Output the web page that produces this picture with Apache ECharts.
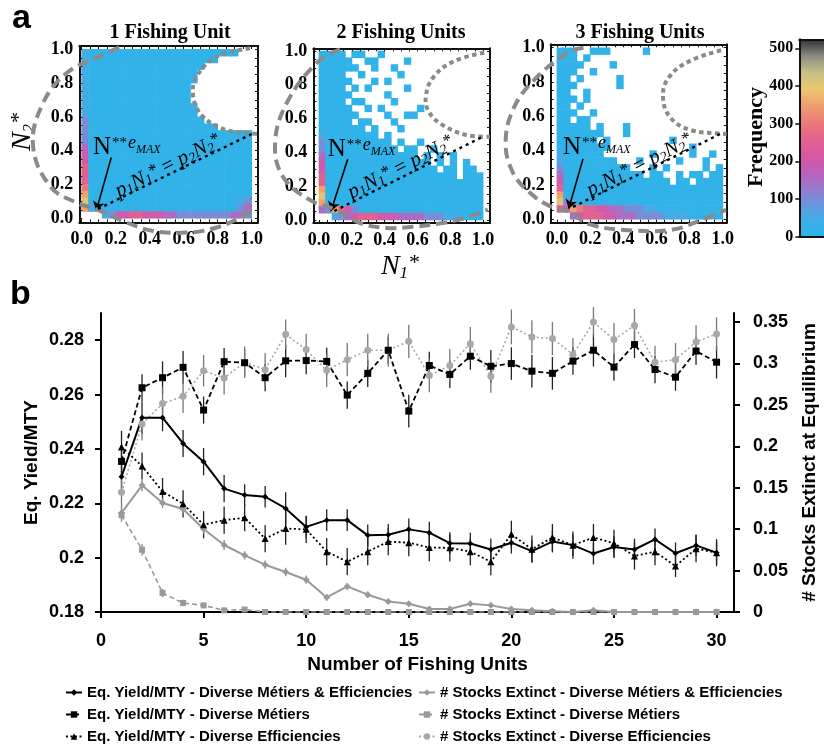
<!DOCTYPE html>
<html>
<head>
<meta charset="utf-8">
<script src="https://cdn.jsdelivr.net/npm/echarts@6/dist/echarts.min.js"></script>
<style>
  html, body { margin: 0; padding: 0; background: #fff; }
  #chart { width: 824px; height: 746px; }
</style>
</head>
<body>
<div id="chart"></div>
<script>
// ---------------- panel b : equilibrium yield and extinctions ----------------
const fishingUnits = [1, 2, 3, 4, 5, 6, 7, 8, 9, 10, 11, 12, 13, 14, 15,
                      16, 17, 18, 19, 20, 21, 22, 23, 24, 25, 26, 27, 28, 29, 30];

const yieldMetiersEff = [0.2298, 0.2515, 0.2515, 0.2420, 0.2353, 0.2254, 0.2230, 0.2224, 0.2181, 0.2113,
                         0.2138, 0.2138, 0.2082, 0.2084, 0.2104, 0.2092, 0.2053, 0.2052, 0.2030, 0.2055,
                         0.2024, 0.2059, 0.2046, 0.2015, 0.2039, 0.2030, 0.2067, 0.2016, 0.2045, 0.2018];
const yieldMetiers    = [0.2354, 0.2625, 0.2662, 0.2700, 0.2543, 0.2721, 0.2717, 0.2662, 0.2724, 0.2725,
                         0.2722, 0.2598, 0.2678, 0.2763, 0.2539, 0.2707, 0.2674, 0.2741, 0.2704, 0.2714,
                         0.2686, 0.2678, 0.2723, 0.2763, 0.2701, 0.2784, 0.2692, 0.2664, 0.2760, 0.2719];
const yieldEff        = [0.2407, 0.2337, 0.2243, 0.2198, 0.2121, 0.2138, 0.2147, 0.2070, 0.2107, 0.2104,
                         0.2022, 0.1985, 0.2022, 0.2059, 0.2055, 0.2037, 0.2036, 0.2022, 0.1985, 0.2086,
                         0.2031, 0.2074, 0.2046, 0.2074, 0.2053, 0.2006, 0.2022, 0.1969, 0.2033, 0.2018];

const extinctMetiersEff = [0.1196, 0.1529, 0.1316, 0.1244, 0.1002, 0.0809, 0.0684, 0.0571, 0.0483, 0.0390,
                           0.0176, 0.0309, 0.0209, 0.0128, 0.0100, 0.0036, 0.0036, 0.0100, 0.0080, 0.0036,
                           0.0020, 0.0010, 0.0000, 0.0020, 0.0000, 0.0000, 0.0000, 0.0000, 0.0000, 0.0000];
const extinctMetiers    = [0.1170, 0.0752, 0.0229, 0.0109, 0.0080, 0.0020, 0.0030, 0, 0, 0,
                           0, 0, 0, 0, 0, 0, 0, 0, 0, 0,
                           0, 0, 0, 0, 0, 0, 0, 0, 0, 0];
const extinctEff        = [0.1445, 0.2270, 0.2516, 0.2604, 0.2914, 0.2826, 0.3015, 0.2926, 0.3353, 0.3168,
                           0.2918, 0.3047, 0.3160, 0.3160, 0.3268, 0.2854, 0.2975, 0.3240, 0.2846, 0.3442,
                           0.3321, 0.3301, 0.3108, 0.3502, 0.3289, 0.3458, 0.3015, 0.3047, 0.3261, 0.3357];

// half-length of each error bar
const errYieldMetiersEff = [0.006, 0.006, 0.005, 0.005, 0.005, 0.005, 0.004, 0.004, 0.006, 0.004,
                            0.004, 0.004, 0.004, 0.004, 0.004, 0.004, 0.004, 0.004, 0.004, 0.004,
                            0.004, 0.004, 0.004, 0.004, 0.004, 0.004, 0.004, 0.004, 0.004, 0.004];
const errYieldMetiers    = [0.006, 0.005, 0.006, 0.006, 0.005, 0.005, 0.005, 0.005, 0.006, 0.005,
                            0.005, 0.005, 0.005, 0.005, 0.006, 0.005, 0.005, 0.005, 0.006, 0.006,
                            0.006, 0.006, 0.005, 0.006, 0.005, 0.005, 0.005, 0.005, 0.005, 0.006];
const errYieldEff        = [0.006, 0.005, 0.005, 0.005, 0.005, 0.005, 0.005, 0.005, 0.006, 0.005,
                            0.005, 0.005, 0.005, 0.005, 0.005, 0.005, 0.005, 0.005, 0.005, 0.005,
                            0.005, 0.005, 0.005, 0.005, 0.005, 0.005, 0.005, 0.004, 0.005, 0.005];
const errExtinctMetiersEff = [0.008, 0.007, 0.006, 0.006, 0.006, 0.006, 0.005, 0.005, 0.005, 0.005,
                              0.004, 0.004, 0.004, 0.003, 0.003, 0.002, 0.002, 0.003, 0.003, 0.002,
                              0.002, 0.001, 0, 0.002, 0, 0, 0, 0, 0, 0];
const errExtinctMetiers    = [0.008, 0.007, 0.005, 0.004, 0.003, 0.002, 0.002, 0, 0, 0,
                              0, 0, 0, 0, 0, 0, 0, 0, 0, 0,
                              0, 0, 0, 0, 0, 0, 0, 0, 0, 0];
const errExtinctEff        = [0.018, 0.020, 0.020, 0.020, 0.019, 0.020, 0.019, 0.020, 0.018, 0.019,
                              0.020, 0.020, 0.020, 0.020, 0.020, 0.020, 0.020, 0.020, 0.020, 0.021,
                              0.020, 0.020, 0.020, 0.018, 0.020, 0.020, 0.020, 0.020, 0.020, 0.020];

const unitTicks = [0, 5, 10, 15, 20, 25, 30];
const yieldTicks = [0.18, 0.2, 0.22, 0.24, 0.26, 0.28];
const extinctTicks = [0, 0.05, 0.1, 0.15, 0.2, 0.25, 0.3, 0.35];

// ---------------- panel a : equilibrium state frequency maps ----------------
// Each row is one band of N2* (top row = highest), each character one 0.04 bin of N1*.
// '.' = no runs, 1..9 = frequency class (see heatLevels).
const heatLevels = [0, 15, 50, 100, 150, 200, 250, 300, 350, 410];
const heatRowsOneUnit = [
  "21111 11111 11111 11111 111..",
  "21111 11111 11111 11111 .....",
  "21111 11111 11111 111.. .....",
  "21111 11111 11111 11... .....",
  "21111 11111 11111 11... .....",
  "21111 11111 11111 1.... .....",
  "21111 11111 11111 1.... .....",
  "21111 11111 11111 1.... .....",
  "21111 11111 11111 11... .....",
  "21111 11111 11111 11... .....",
  "31111 11111 11111 111.. .....",
  "31111 11111 11111 11111 .....",
  "31111 11111 11111 11111 11111",
  "31111 11111 11111 11111 11111",
  "41111 11111 11111 11111 11111",
  "51111 11111 11111 11111 11111",
  "51111 11111 11111 11111 11111",
  "61111 11111 11111 11111 11111",
  "61111 11111 11111 11111 11111",
  "61111 11111 11111 11111 11111",
  "71111 11111 11111 11111 11111",
  "81111 11111 11111 11111 11111",
  "91111 11111 11111 11111 11123",
  "82111 11111 11111 11111 11134",
  "...23 55665 55443 33333 33443"
];
const heatRowsTwoUnits = [
  "1111. 11..1 ..... ..... .....",
  "11111 ..11. ...1. ..... .....",
  "11111 1..1. .1... ..... .....",
  "1111. .1... ..1.. ..... .....",
  "11111 ...1. 1.... ..... .....",
  "1111. 1.1.. ...1. ..... .....",
  "11111 ..... 1.... ..... .....",
  "1111. 11... .1... ..... .....",
  "11111 ..1.1 ..... 1.... .....",
  "11111 1.... 1..11 ..... .....",
  "11111 .11.. .1... ..... .....",
  "11111 11.1. ..1.. ..... .....",
  "21111 1111. 1.... ..... .....",
  "31111 11111 1.1.. 1.... .....",
  "31111 11111 11.11 ..1.. .....",
  "41111 11111 11111 .1.1. 1....",
  "51111 11111 11111 11.1. 1.1..",
  "51111 11111 11111 111.1 1.11.",
  "61111 11111 11111 11111 1.111",
  "61111 11111 11111 11111 11111",
  "81111 11111 11111 11111 11111",
  "91111 11111 11111 11111 11111",
  "82111 11111 11111 11111 11111",
  "43865 31111 11111 11111 11111",
  "..234 56665 55444 43332 22111"
];
const heatRowsThreeUnits = [
  "111.. 111.. ...1. ..... .....",
  "111.1 ..... ..... ..... .....",
  "1111. ...1. ..... ..... .....",
  "111.. 1.... ..... ..... .....",
  "11.1. ....1 ..... ..... .....",
  "111.. ....1 ..... ..... .....",
  "11..1 ..... ..... ..... .....",
  "111.1 ..... ..... ..... .....",
  "11.1. ..... ..... ..... .....",
  "111.. 1.... ..... ..... .....",
  "11.11 ..... ..... ..... .....",
  "11111 .1... 1.... ..... .....",
  "11111 11... 1.... ..... .....",
  "11111 1.1.. ..... ..1.. .....",
  "11111 111.. ..... ..... 1....",
  "21111 11... ....1 ..... 1..1.",
  "21111 1111. ..1.. ...1. ..1..",
  "31111 11111 1...1 .1... ..1.1",
  "41111 11111 111.1 1..1. 11.11",
  "51111 11111 11111 11.11 .1111",
  "61111 11111 11111 11111 11111",
  "81111 11111 11111 11111 11111",
  "93211 11111 11111 11111 11111",
  "65876 65544 33322 11111 11111",
  "..456 66554 44333 32222 11111"
];
const HEAT_BIN = 0.04;

const freqColors = ['#2ab4ea', '#3eaee8', '#6c94dc', '#9a78cc', '#c05eb8', '#d858a2',
                    '#e4648c', '#ec7c78', '#efa06e', '#ecc86e', '#c4c088', '#8a8a82', '#303030'];
const freqTicks = [0, 100, 200, 300, 400, 500];
const stateTicks = [0, 0.2, 0.4, 0.6, 0.8, 1.0];
const stateMinorTicks = [0, 0.05, 0.1, 0.15, 0.2, 0.25, 0.3, 0.35, 0.4, 0.45, 0.5,
                         0.55, 0.6, 0.65, 0.7, 0.75, 0.8, 0.85, 0.9, 0.95, 1.0];
const panelTitles = ['1 Fishing Unit', '2 Fishing Units', '3 Fishing Units'];

// hand-traced outlines (N1*, N2*)
const outerOutlines = [
  [[0.22, 1.012], [0.108, 0.96], [-0.088, 0.86], [-0.228, 0.68], [-0.286, 0.43], [-0.186, 0.19],
   [-0.03, 0.092], [0.088, 0.053], [0.265, -0.026], [0.42, -0.075], [0.62, -0.085], [0.79, -0.056],
   [0.93, 0.004], [1.025, 0.065]],
  [[0.128, 1.01], [-0.014, 0.93], [-0.197, 0.692], [-0.268, 0.456], [-0.22, 0.256], [-0.055, 0.118],
   [0.108, 0.059], [0.25, -0.018], [0.413, -0.047], [0.573, -0.04], [0.756, -0.018], [0.92, 0.02],
   [1.03, 0.062]],
  [[0.16, 1.0], [0.06, 0.97], [-0.15, 0.80], [-0.265, 0.64], [-0.31, 0.45], [-0.27, 0.28],
   [-0.17, 0.16], [-0.04, 0.075], [0.06, 0.05], [0.2, -0.03], [0.45, -0.065], [0.7, -0.06],
   [0.88, 0.0], [1.02, 0.055]]
];
const innerOutlines = [
  [[0.99, 1.006], [0.794, 0.956], [0.676, 0.838], [0.656, 0.72], [0.715, 0.60], [0.853, 0.522], [0.99, 0.503], [1.037, 0.50]],
  [[1.008, 0.99], [0.825, 0.94], [0.703, 0.852], [0.652, 0.734], [0.673, 0.635], [0.764, 0.556], [0.907, 0.501], [1.043, 0.493]],
  [[0.99, 0.985], [0.79, 0.917], [0.67, 0.82], [0.64, 0.703], [0.69, 0.586], [0.81, 0.519], [0.99, 0.499], [1.024, 0.497]]
];
const equalityLines = [
  [[0.096, 0.055], [1.0, 0.499]],
  [[0.093, 0.053], [1.008, 0.497]],
  [[0.097, 0.072], [0.99, 0.50]]
];
const arrowPaths = [
  [[0.174, 0.36], [0.086, 0.045]],
  [[0.175, 0.36], [0.073, 0.053]],
  [[0.157, 0.353], [0.071, 0.062]]
];
const maxLabelAnchors = [[0.066, 0.495], [0.053, 0.493], [0.036, 0.493]];
const equationAnchors = [[0.51, 0.31], [0.50, 0.31], [0.50, 0.315]];

// ---------------- layout & styles ----------------
const SERIF = '"Liberation Serif", "Times New Roman", "DejaVu Serif", serif';
const SANS = '"Liberation Sans", Arial, "DejaVu Sans", sans-serif';

const panelLayout = [
  { left: 79.3, top: 46, width: 178.7, height: 176.3, xRange: [-0.014, 1.037], yRange: [-0.024, 1.02] },
  { left: 313.3, top: 48.3, width: 176.7, height: 174.7, xRange: [-0.035, 1.043], yRange: [-0.018, 1.016] },
  { left: 550.7, top: 44.3, width: 176, height: 178.4, xRange: [-0.038, 1.024], yRange: [-0.02, 1.02] }
];

function cellsFromRows(rows) {
  const cells = [];
  rows.forEach((row, r) => {
    const codes = row.replace(/\s+/g, '');
    for (let c = 0; c < codes.length; c++) {
      const ch = codes[c];
      if (ch === '.') continue;
      cells.push([HEAT_BIN * (c + 0.5), 1 - HEAT_BIN * (r + 0.5), heatLevels[+ch]]);
    }
  });
  return cells;
}
const heatCells = [cellsFromRows(heatRowsOneUnit), cellsFromRows(heatRowsTwoUnits), cellsFromRows(heatRowsThreeUnits)];

const grids = [], xAxes = [], yAxes = [], series = [];

function frameAxis(dim, gridIndex, range, position, withLabels) {
  return {
    type: 'value', gridIndex, position, min: range[0], max: range[1], z: 10,
    axisLine: { show: true, onZero: false, lineStyle: { color: '#111', width: 2 } },
    axisTick: { show: true, inside: true, length: 3, customValues: stateMinorTicks, lineStyle: { color: '#111', width: 1 } },
    axisLabel: withLabels ? {
      show: true, customValues: stateTicks, formatter: v => v.toFixed(1),
      color: '#000', fontFamily: SERIF, fontWeight: 'bold', fontSize: 18, margin: dim === 'x' ? 8 : 6
    } : { show: false },
    splitLine: { show: false }
  };
}

// a dashed outline traced through its points, drawn in one piece
function outlineSeries(points, g, dash, clip) {
  return {
    type: 'custom', xAxisIndex: 2 * g, yAxisIndex: 2 * g, silent: true, clip, z: 12,
    data: points, encode: { x: 0, y: 1 },
    renderItem: (params, api) => {
      if (params.dataIndex !== 0) return null;
      const pts = points.map(p => api.coord(p));
      return {
        type: 'polyline', shape: { points: pts, smooth: 0.4 },
        style: { stroke: '#8a8a8a', lineWidth: 4, lineDash: dash, fill: null }
      };
    }
  };
}

// heat panels (series 0..2 are the frequency cells)
panelLayout.forEach((p, g) => {
  grids.push({ left: p.left, top: p.top, width: p.width, height: p.height, outerBoundsMode: 'none' });
  xAxes.push(frameAxis('x', g, p.xRange, 'bottom', true));
  xAxes.push(frameAxis('x', g, p.xRange, 'top', false));
  yAxes.push(frameAxis('y', g, p.yRange, 'left', true));
  yAxes.push(frameAxis('y', g, p.yRange, 'right', false));
  series.push({
    type: 'scatter', xAxisIndex: 2 * g, yAxisIndex: 2 * g, data: heatCells[g],
    symbol: 'rect', symbolSize: 7.4, itemStyle: { opacity: 1 }, silent: true, z: 2
  });
});
panelLayout.forEach((p, g) => {
  series.push(outlineSeries(outerOutlines[g], g, [11, 6], false));
  series.push(outlineSeries(innerOutlines[g], g, [4.5, 3.5], true));
  series.push({
    type: 'line', xAxisIndex: 2 * g, yAxisIndex: 2 * g, data: equalityLines[g],
    symbol: 'none', silent: true, z: 12,
    lineStyle: { color: '#000', width: 2.4, type: [3, 4] },
    markLine: {
      silent: true, symbol: ['none', 'arrow'], symbolSize: 9, animation: false,
      label: { show: false },
      lineStyle: { color: '#000', width: 1.6, type: 'solid' },
      emphasis: { disabled: true },
      data: [[{ coord: arrowPaths[g][0] }, { coord: arrowPaths[g][1] }]]
    }
  });
});

// colour bar frame and tick axis (grid 3)
grids.push({ left: 799.3, top: 39.3, width: 40, height: 197.4, outerBoundsMode: 'none' });
xAxes.push({ type: 'value', gridIndex: 3, position: 'bottom', min: 0, max: 1, z: 10,
  axisLine: { show: true, onZero: false, lineStyle: { color: '#111', width: 2 } },
  axisTick: { show: false }, axisLabel: { show: false }, splitLine: { show: false } });
xAxes.push({ type: 'value', gridIndex: 3, position: 'top', min: 0, max: 1, z: 10,
  axisLine: { show: true, onZero: false, lineStyle: { color: '#111', width: 2 } },
  axisTick: { show: false }, axisLabel: { show: false }, splitLine: { show: false } });
yAxes.push({ type: 'value', gridIndex: 3, position: 'left', min: 0, max: 524, z: 10,
  axisLine: { show: true, onZero: false, lineStyle: { color: '#111', width: 2 } },
  axisTick: { show: true, length: 4, customValues: freqTicks, lineStyle: { color: '#111', width: 1.5 } },
  axisLabel: { customValues: freqTicks, color: '#000', fontFamily: SERIF, fontWeight: 'bold', fontSize: 16, margin: 6 },
  splitLine: { show: false } });

// panel b (grid 4)
grids.push({ left: 101, top: 313, width: 633, height: 299, outerBoundsMode: 'none' });
const XB = xAxes.length;
xAxes.push({
  type: 'value', gridIndex: 4, min: 0, max: 30.85,
  name: 'Number of Fishing Units', nameLocation: 'middle', nameGap: 43, nameMoveOverlap: false,
  nameTextStyle: { fontFamily: SANS, fontWeight: 'bold', fontSize: 19, color: '#000' },
  axisLine: { show: true, onZero: false, lineStyle: { color: '#000', width: 2 } },
  axisTick: { show: true, length: 6, customValues: unitTicks, lineStyle: { color: '#000', width: 2 } },
  axisLabel: { customValues: unitTicks, color: '#000', fontFamily: SANS, fontWeight: 'bold', fontSize: 18, margin: 20 },
  splitLine: { show: false }
});
const YL = yAxes.length;
yAxes.push({
  type: 'value', gridIndex: 4, position: 'left', min: 0.18, max: 0.29,
  name: 'Eq. Yield/MTY', nameLocation: 'middle', nameGap: 60, nameMoveOverlap: false,
  nameTextStyle: { fontFamily: SANS, fontWeight: 'bold', fontSize: 19, color: '#000' },
  axisLine: { show: true, onZero: false, lineStyle: { color: '#000', width: 2 } },
  axisTick: { show: true, length: 6, customValues: yieldTicks, lineStyle: { color: '#000', width: 2 } },
  axisLabel: { customValues: yieldTicks, color: '#000', fontFamily: SANS, fontWeight: 'bold', fontSize: 18, margin: 17 },
  splitLine: { show: false }
});
const YR = yAxes.length;
yAxes.push({
  type: 'value', gridIndex: 4, position: 'right', min: 0, max: 0.361,
  name: '# Stocks Extinct at Equilibrium', nameLocation: 'middle', nameGap: 66, nameMoveOverlap: false,
  nameTextStyle: { fontFamily: SANS, fontWeight: 'bold', fontSize: 19, color: '#000' },
  axisLine: { show: true, onZero: false, lineStyle: { color: '#000', width: 2 } },
  axisTick: { show: true, length: 6, customValues: extinctTicks, lineStyle: { color: '#000', width: 2 } },
  axisLabel: { customValues: extinctTicks, color: '#000', fontFamily: SANS, fontWeight: 'bold', fontSize: 18, margin: 19 },
  splitLine: { show: false }
});

function errorBarData(values, errs) {
  const out = [];
  fishingUnits.forEach((u, i) => { if (errs[i] > 0) out.push([u, values[i] - errs[i], values[i] + errs[i]]); });
  return out;
}
function errorBarSeries(values, errs, yAxisIndex, color) {
  return {
    type: 'custom', xAxisIndex: XB, yAxisIndex, silent: true, z: 1,
    data: errorBarData(values, errs), encode: { x: 0, y: [1, 2] },
    renderItem: (params, api) => {
      const a = api.coord([api.value(0), api.value(1)]);
      const b = api.coord([api.value(0), api.value(2)]);
      return { type: 'line', shape: { x1: a[0], y1: a[1], x2: b[0], y2: b[1] },
               style: { stroke: color, lineWidth: 1.3 } };
    }
  };
}

const NAME_YIELD_ME = 'Eq. Yield/MTY - Diverse Métiers & Efficiencies';
const NAME_YIELD_M = 'Eq. Yield/MTY - Diverse Métiers';
const NAME_YIELD_E = 'Eq. Yield/MTY - Diverse Efficiencies';
const NAME_EXT_ME = '# Stocks Extinct - Diverse Métiers & Efficiencies';
const NAME_EXT_M = '# Stocks Extinct - Diverse Métiers';
const NAME_EXT_E = '# Stocks Extinct - Diverse Efficiencies';

series.push(errorBarSeries(yieldMetiersEff, errYieldMetiersEff, YL, '#222'));
series.push(errorBarSeries(yieldMetiers, errYieldMetiers, YL, '#222'));
series.push(errorBarSeries(yieldEff, errYieldEff, YL, '#222'));
series.push(errorBarSeries(extinctMetiersEff, errExtinctMetiersEff, YR, '#888'));
series.push(errorBarSeries(extinctMetiers, errExtinctMetiers, YR, '#888'));
series.push(errorBarSeries(extinctEff, errExtinctEff, YR, '#777'));

function pairs(values) { return fishingUnits.map((u, i) => [u, values[i]]); }
function lineSeries(name, values, yAxisIndex, color, dash, symbol, size, width) {
  return {
    type: 'line', name, xAxisIndex: XB, yAxisIndex, data: pairs(values),
    symbol, symbolSize: size, showSymbol: true, z: 3,
    lineStyle: { color, width, type: dash },
    itemStyle: { color, borderWidth: 0 },
    emphasis: { disabled: true }
  };
}
series.push(lineSeries(NAME_EXT_ME, extinctMetiersEff, YR, '#999', 'solid', 'diamond', 7, 2));
series.push(lineSeries(NAME_EXT_M, extinctMetiers, YR, '#999', [5, 3], 'rect', 6, 1.6));
series.push(lineSeries(NAME_EXT_E, extinctEff, YR, '#a8a8a8', [2, 2.5], 'circle', 7, 1.6));
series.push(lineSeries(NAME_YIELD_ME, yieldMetiersEff, YL, '#000', 'solid', 'diamond', 6, 2));
series.push(lineSeries(NAME_YIELD_M, yieldMetiers, YL, '#000', [5, 3], 'rect', 7, 1.8));
series.push(lineSeries(NAME_YIELD_E, yieldEff, YL, '#000', [2, 2.5], 'triangle', 7, 1.8));

const legendBase = {
  orient: 'vertical', top: 685, itemWidth: 16, itemHeight: 8, itemGap: 7, padding: 0,
  selectedMode: false,
  textStyle: { fontFamily: SANS, fontWeight: 'bold', fontSize: 15, lineHeight: 15, color: '#000' }
};

const chart = echarts.init(document.getElementById('chart'), null, { renderer: 'canvas', width: 824, height: 746 });
chart.setOption({
  animation: false,
  backgroundColor: '#fff',
  textStyle: { fontFamily: SANS },
  grid: grids,
  xAxis: xAxes,
  yAxis: yAxes,
  visualMap: {
    type: 'continuous', seriesIndex: [0, 1, 2], dimension: 2, min: 0, max: 524,
    inRange: { color: freqColors }, orient: 'vertical', left: 799.3, top: 39.3,
    itemWidth: 27, itemHeight: 197.4, padding: 0, calculable: false, hoverLink: false, show: true
  },
  legend: [
    Object.assign({}, legendBase, { left: 65, data: [NAME_YIELD_ME, NAME_YIELD_M, NAME_YIELD_E] }),
    Object.assign({}, legendBase, { left: 418, data: [NAME_EXT_ME, NAME_EXT_M, NAME_EXT_E] })
  ],
  series
});

// ---------------- text annotations ----------------
const graphics = [
  { type: 'text', x: 12, y: 2, style: { text: 'a', fontFamily: SANS, fontWeight: 'bold', fontSize: 34, fill: '#000' } },
  { type: 'text', x: 10, y: 278, style: { text: 'b', fontFamily: SANS, fontWeight: 'bold', fontSize: 34, fill: '#000' } },
  {
    type: 'text', x: 23, y: 132, rotation: Math.PI / 2,
    style: {
      text: '{n|N}{sub|2}{sup|*}', align: 'center', verticalAlign: 'middle', fill: '#000',
      rich: {
        n: { fontFamily: SERIF, fontStyle: 'italic', fontSize: 28, lineHeight: 30, verticalAlign: 'middle' },
        sub: { fontFamily: SERIF, fontStyle: 'italic', fontSize: 17, lineHeight: 17, verticalAlign: 'bottom' },
        sup: { fontFamily: SERIF, fontStyle: 'italic', fontSize: 22, lineHeight: 18, verticalAlign: 'top' }
      }
    }
  },
  {
    type: 'text', x: 400, y: 267,
    style: {
      text: '{n|N}{sub|1}{sup|*}', align: 'center', verticalAlign: 'middle', fill: '#000',
      rich: {
        n: { fontFamily: SERIF, fontStyle: 'italic', fontSize: 28, lineHeight: 30, verticalAlign: 'middle' },
        sub: { fontFamily: SERIF, fontStyle: 'italic', fontSize: 17, lineHeight: 17, verticalAlign: 'bottom' },
        sup: { fontFamily: SERIF, fontStyle: 'italic', fontSize: 22, lineHeight: 18, verticalAlign: 'top' }
      }
    }
  },
  {
    type: 'text', x: 756, y: 137, rotation: Math.PI / 2,
    style: { text: 'Frequency', align: 'center', verticalAlign: 'middle', fill: '#000',
             fontFamily: SERIF, fontWeight: 'bold', fontSize: 22 }
  }
];
const titleCenters = [170, 401, 640];
panelTitles.forEach((t, g) => {
  graphics.push({ type: 'text', x: titleCenters[g], y: 33,
    style: { text: t, align: 'center', verticalAlign: 'middle', fill: '#000',
             fontFamily: SERIF, fontWeight: 'bold', fontSize: 20 } });
});

const maxLabelRich = {
  n: { fontFamily: SERIF, fontSize: 25, lineHeight: 25, verticalAlign: 'bottom' },
  s: { fontFamily: SERIF, fontSize: 15, lineHeight: 15, verticalAlign: 'top', padding: [1, 0, 0, 1] },
  e: { fontFamily: SERIF, fontStyle: 'italic', fontSize: 18, lineHeight: 18, verticalAlign: 'top', padding: [0, 0, 0, 1] },
  m: { fontFamily: SERIF, fontStyle: 'italic', fontSize: 12, lineHeight: 12, verticalAlign: 'top', padding: [9, 0, 0, 0] }
};
const equationRich = {
  v: { fontFamily: SERIF, fontStyle: 'italic', fontSize: 21, lineHeight: 22, verticalAlign: 'middle' },
  o: { fontFamily: SERIF, fontSize: 21, lineHeight: 22, verticalAlign: 'middle' },
  sub: { fontFamily: SERIF, fontStyle: 'italic', fontSize: 14, lineHeight: 13, verticalAlign: 'bottom' },
  sup: { fontFamily: SERIF, fontSize: 17, lineHeight: 14, verticalAlign: 'top' }
};
panelLayout.forEach((p, g) => {
  const finder = { xAxisIndex: 2 * g, yAxisIndex: 2 * g };
  const nPos = chart.convertToPixel(finder, maxLabelAnchors[g]);
  graphics.push({ type: 'text', x: nPos[0], y: nPos[1], silent: true, z: 20,
    style: { text: '{n|N}{s|**}{e|e}{m|MAX}', rich: maxLabelRich, fill: '#000', align: 'left', verticalAlign: 'top' } });
  const ePos = chart.convertToPixel(finder, equationAnchors[g]);
  graphics.push({ type: 'text', x: ePos[0], y: ePos[1], rotation: 0.47, silent: true, z: 20,
    style: { text: '{v|p}{sub|1}{v|N}{sub|1}{sup|*}{o| = }{v|p}{sub|2}{v|N}{sub|2}{sup|*}',
             rich: equationRich, fill: '#000', align: 'center', verticalAlign: 'middle' } });
});

chart.setOption({ graphic: { elements: graphics } });
</script>
</body>
</html>
